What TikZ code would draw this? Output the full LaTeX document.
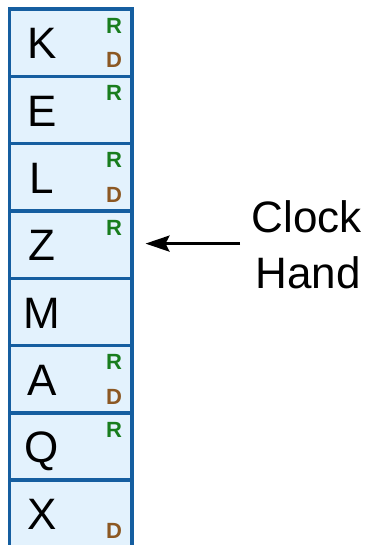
\documentclass[tikz,border=0pt]{standalone}
\usepackage{fontspec}
\setmainfont{Liberation Sans}
\usetikzlibrary{arrows.meta}
\definecolor{cellfill}{RGB}{227,242,253}
\definecolor{cellline}{RGB}{21,94,160}
\definecolor{rgreen}{RGB}{25,125,30}
\definecolor{dbrown}{RGB}{140,88,35}
\tikzset{
  cellbox/.style={draw=cellline, fill=cellfill, line width=3.5pt, minimum width=122.5pt, minimum height=67.25pt, inner sep=0pt, anchor=north west},
  letter/.style={font=\fontsize{44}{52}\selectfont, anchor=base, inner sep=0pt},
  rmark/.style={font=\fontsize{22}{26}\selectfont\bfseries, text=rgreen, anchor=base, inner sep=0pt},
  dmark/.style={font=\fontsize{22}{26}\selectfont\bfseries, text=dbrown, anchor=base, inner sep=0pt},
  handtext/.style={font=\fontsize{44}{52}\selectfont, anchor=base, inner sep=0pt},
  handarrow/.style={line width=3pt, -{Stealth[length=24pt,width=16pt,inset=4pt]}}
}
\begin{document}
\begin{tikzpicture}[x=1pt,y=-1pt]
\useasboundingbox (0,0) rectangle (374,545);
\foreach \i/\t/\r/\d in {0/K/1/1, 1/E/1/0, 2/L/1/1, 3/Z/1/0, 4/M/0/0, 5/A/1/1, 6/Q/1/0, 7/X/0/1} {
  \pgfmathsetmacro{\top}{7.5+67.25*\i}
  \node[cellbox] (c\t) at (7.5,\top) {};
  \node[letter] (l\t) at (42,\top+51.5) {\t};
  \ifnum\r=1 \node[rmark] (r\t) at (114,\top+26) {R}; \fi
  \ifnum\d=1 \node[dmark] (d\t) at (114,\top+60.5) {D}; \fi
}
\node[handtext] (clock) at (307,232) {Clock};
\node[handtext] (hand) at (308,288) {Hand};
\coordinate (hstart) at (240,243.6);
\draw[handarrow, shorten >=12pt] (hstart) -- (cZ.east |- hstart);
\end{tikzpicture}
\end{document}
